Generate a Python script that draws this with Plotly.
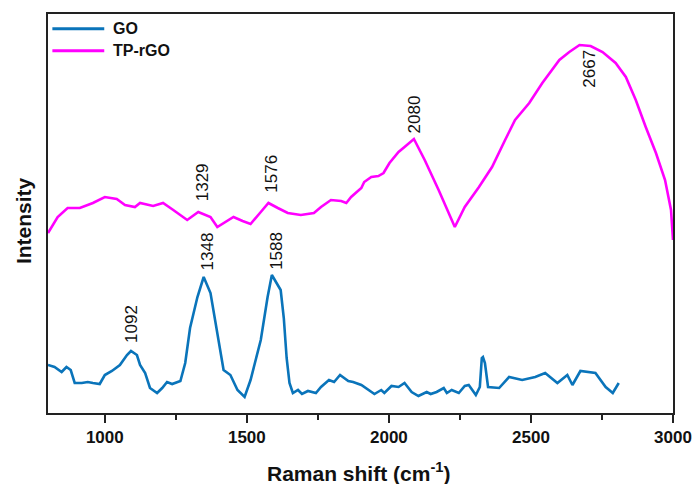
import plotly.graph_objects as go

# GO spectrum (Raman shift, intensity a.u.)
go_x = [800, 823, 848, 865, 880, 894, 919, 940, 958, 982, 1000, 1025, 1053, 1078, 1092, 1113,
        1124, 1142, 1159, 1184, 1202, 1219, 1237, 1266, 1283, 1300, 1326, 1348, 1372, 1396,
        1418, 1442, 1467, 1492, 1513, 1549, 1573, 1588, 1619, 1630, 1640, 1650, 1662, 1680,
        1694, 1715, 1743, 1761, 1789, 1807, 1828, 1857, 1874, 1903, 1931, 1949, 1973, 1984,
        2009, 2034, 2055, 2080, 2104, 2133, 2147, 2168, 2193, 2204, 2221, 2246, 2267, 2281,
        2306, 2320, 2327, 2331, 2338, 2349, 2388, 2423, 2469, 2515, 2550, 2593, 2628, 2646,
        2674, 2727, 2763, 2788, 2809]
go_y = [48, 46, 41, 46, 43, 30, 30, 31, 30, 29, 38, 42, 48, 58, 62, 58,
        48, 40, 25, 20, 25, 31, 29, 32, 50, 85, 116, 136, 120, 80,
        43, 38, 23, 16, 33, 73, 116, 138, 123, 95, 55, 30, 20, 23,
        19, 22, 20, 26, 33, 31, 38, 32, 31, 28, 23, 19, 23, 20,
        27, 26, 30, 21, 17, 21, 19, 21, 25, 20, 23, 20, 27, 28,
        18, 26, 55, 56, 50, 26, 25, 36, 33, 36, 40, 30, 38, 28,
        42, 40, 26, 20, 30]

# TP-rGO spectrum
tp_x = [800, 834, 869, 912, 958, 1000, 1042, 1071, 1106, 1124, 1170, 1205, 1241, 1290, 1329,
        1372, 1396, 1418, 1453, 1485, 1513, 1549, 1576, 1609, 1644, 1690, 1736, 1761, 1796,
        1832, 1850, 1867, 1903, 1913, 1938, 1963, 1981, 2002, 2034, 2055, 2088, 2126, 2175,
        2232, 2267, 2317, 2363, 2409, 2444, 2494, 2540, 2600, 2635, 2671, 2710, 2752, 2798,
        2834, 2869, 2904, 2940, 2972, 2993, 3000]
tp_y = [180, 196, 205, 205, 210, 216, 214, 208, 206, 210, 207, 210, 203, 193, 201,
        196, 186, 190, 196, 192, 189, 201, 210, 205, 200, 198, 200, 206, 213,
        212, 210, 216, 225, 231, 236, 237, 240, 250, 261, 266, 274, 253, 223,
        186, 206, 226, 246, 273, 293, 310, 330, 353, 361, 368, 367, 361, 350,
        336, 313, 286, 260, 233, 203, 173]

# peak labels
label_text = ["1092", "1348", "1588", "1329", "1576", "2080", "2667"]
label_x = [1092, 1361, 1602, 1343, 1584, 2090, 2703]
label_y = [68, 141, 141, 210, 218, 278, 323]

series_names = ["GO", "TP-rGO"]
series_colors = ["#0A74BA", "#FF00FF"]

FONT = "Arial, Liberation Sans"

fig = go.Figure()
fig.add_trace(go.Scatter(x=go_x, y=go_y, mode="lines", name=series_names[0],
                         line=dict(color=series_colors[0], width=2.6), showlegend=False))
fig.add_trace(go.Scatter(x=tp_x, y=tp_y, mode="lines", name=series_names[1],
                         line=dict(color=series_colors[1], width=2.6), showlegend=False))

for t, x, y in zip(label_text, label_x, label_y):
    fig.add_annotation(x=x, y=y, text=t, textangle=-90, showarrow=False,
                       xanchor="center", yanchor="bottom",
                       font=dict(family=FONT, size=17, color="#111"))

# manual legend
leg_y = [0.963, 0.908]
for name, col, yy in zip(series_names, series_colors, leg_y):
    fig.add_shape(type="line", xref="paper", yref="paper", x0=0.007, x1=0.09, y0=yy, y1=yy,
                  line=dict(color=col, width=3))
    fig.add_annotation(xref="paper", yref="paper", x=0.10, y=yy, text="<b>%s</b>" % name,
                       showarrow=False, xanchor="left", yanchor="middle",
                       font=dict(family=FONT, size=16, color="#111"))

# axis titles
fig.add_annotation(xref="paper", yref="paper", x=0.497, y=-0.148,
                   text="<b>Raman shift (cm<sup>-1</sup>)</b>", showarrow=False,
                   xanchor="center", yanchor="middle",
                   font=dict(family=FONT, size=21, color="#111"))
fig.add_annotation(xref="paper", yref="paper", x=-0.04, y=0.481,
                   text="<b>Intensity</b>", textangle=-90, showarrow=False,
                   xanchor="center", yanchor="middle",
                   font=dict(family=FONT, size=21, color="#111"))

fig.update_layout(
    width=692, height=484,
    margin=dict(l=48, r=19, t=14, b=71),
    paper_bgcolor="white", plot_bgcolor="white",
    font=dict(family=FONT, color="#111"),
    xaxis=dict(range=[800, 3000], tickvals=[1000, 1500, 2000, 2500, 3000],
               ticktext=["<b>1000</b>", "<b>1500</b>", "<b>2000</b>", "<b>2500</b>", "<b>3000</b>"],
               ticks="outside", ticklen=8, tickwidth=1.5, tickcolor="#222",
               minor=dict(tickvals=[1250, 1750, 2250, 2750], ticks="outside", ticklen=5,
                          tickwidth=1.5, tickcolor="#222"),
               showline=True, linecolor="#222", linewidth=1.8, mirror=True,
               showgrid=False, zeroline=False, automargin=False,
               tickfont=dict(size=17, color="#111")),
    yaxis=dict(range=[0, 399], showticklabels=False, ticks="",
               showline=True, linecolor="#222", linewidth=1.8, mirror=True,
               showgrid=False, zeroline=False, automargin=False),
)

fig.write_html("out.html")
